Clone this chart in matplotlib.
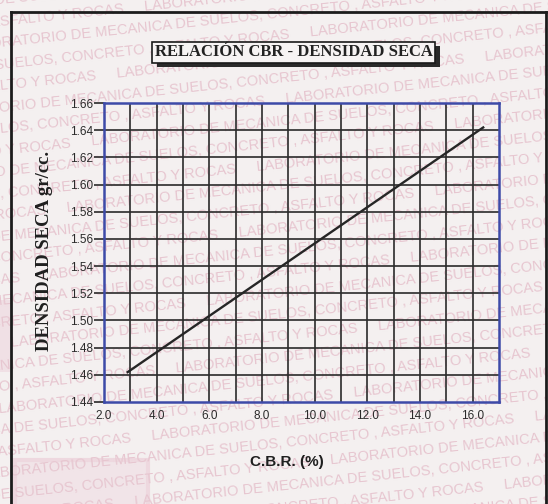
import matplotlib
matplotlib.use("Agg")
import matplotlib.pyplot as plt
from matplotlib.patches import Rectangle
from matplotlib.lines import Line2D

# Data: fitted CBR vs dry density relation
cbr = [2.9, 16.4]
densidad = [1.462, 1.642]

x_ticks = [2.0, 4.0, 6.0, 8.0, 10.0, 12.0, 14.0, 16.0]
y_ticks = [1.44, 1.46, 1.48, 1.50, 1.52, 1.54, 1.56, 1.58, 1.60, 1.62, 1.64, 1.66]

titulo = "RELACIÓN CBR - DENSIDAD SECA"
eje_x = "C.B.R. (%)"
eje_y = "DENSIDAD SECA gr/cc."
marca_agua = "LABORATORIO DE MECANICA DE SUELOS, CONCRETO , ASFALTO Y ROCAS     "

W, H = 548, 504
fig = plt.figure(figsize=(W / 100, H / 100), dpi=100)
fig.patch.set_facecolor("#f4f0f0")


def fx(x):
    return x / W


def fy(y):
    return 1 - y / H


# full-page background layer (paper stains and watermark), clipped to the page
bg = fig.add_axes([0, 0, 1, 1], zorder=-5)
bg.set_xlim(0, W)
bg.set_ylim(H, 0)
bg.axis("off")
bg.add_patch(Rectangle((15, 460), 133, 50, facecolor="#f1e4e8", edgecolor="#eed8df",
                       lw=3))
bg.add_patch(Rectangle((0, 300), 10, 72, facecolor="#f0e0e5", edgecolor="none"))

n = len(marca_agua)
for i in range(-3, 30):
    y = -20 + i * 21.5
    k = (i * 23) % n
    fila = marca_agua[k:] + marca_agua * 3
    bg.text(-10, y, fila, fontsize=10.5, family="Liberation Sans", color="#e7c6d0",
            rotation=6, rotation_mode="anchor", ha="left", va="center", clip_on=True)

# plot area
ax = fig.add_axes([fx(104), fy(402), (499 - 104) / W, (402 - 103) / H])
ax.set_facecolor("none")
ax.set_xlim(2.0, 17.0)
ax.set_ylim(1.44, 1.66)

for xv in range(3, 17):
    ax.axvline(xv, color="#2b2b2b", lw=1.2, zorder=1)
for k in range(1, 11):
    ax.axhline(1.44 + 0.02 * k, color="#2b2b2b", lw=1.2, zorder=1)

ax.plot(cbr, densidad, color="#262626", lw=1.7, zorder=3)

for s in ax.spines.values():
    s.set_color("#3d4aa8")
    s.set_linewidth(1.8)
    s.set_zorder(4)

ax.set_xticks(x_ticks)
ax.set_xticklabels([f"{v:.1f}" for v in x_ticks])
ax.set_yticks(y_ticks)
ax.set_yticklabels([f"{v:.2f}" for v in y_ticks])
ax.tick_params(axis="x", length=0, pad=6, labelsize=8.5, labelcolor="#2a2a2a")
ax.tick_params(axis="y", length=7, width=1.2, color="#2b2b2b", pad=1,
               labelsize=8.5, labelcolor="#2a2a2a")
for lab in ax.get_xticklabels() + ax.get_yticklabels():
    lab.set_family("Liberation Sans")

# axis titles
fig.text(fx(287), fy(462), eje_x, family="Liberation Sans", fontweight="bold",
         fontsize=11, color="#1f1f1f", ha="center", va="center")
fig.text(fx(45), fy(251), eje_y, family="Liberation Serif", fontweight="bold",
         fontsize=13.5, color="#1f1f1f", ha="center", va="center", rotation=90)

# title box with drop shadow
fig.patches.append(Rectangle((fx(157), fy(67)), (435 - 152) / W, 21 / H,
                             transform=fig.transFigure, facecolor="#2a2a2a",
                             edgecolor="none", zorder=5))
fig.patches.append(Rectangle((fx(152), fy(63)), (435 - 152) / W, 21 / H,
                             transform=fig.transFigure, facecolor="#f6f3f3",
                             edgecolor="#1a1a1a", lw=1.2, zorder=6))
fig.text(fx(293.5), fy(52.5), titulo, family="Liberation Serif", fontweight="bold",
         fontsize=12, color="#222222", ha="center", va="center", zorder=7)

# document frame
frame = dict(color="#1c1c1c", lw=2.0, transform=fig.transFigure)
fig.lines.append(Line2D([fx(11), fx(11)], [fy(12), fy(504)], **frame))
fig.lines.append(Line2D([fx(11), fx(546)], [fy(12), fy(12)], **frame))
fig.lines.append(Line2D([fx(546), fx(546)], [fy(12), fy(504)], **frame))

fig.savefig("out.png", dpi=100, facecolor=fig.get_facecolor())
